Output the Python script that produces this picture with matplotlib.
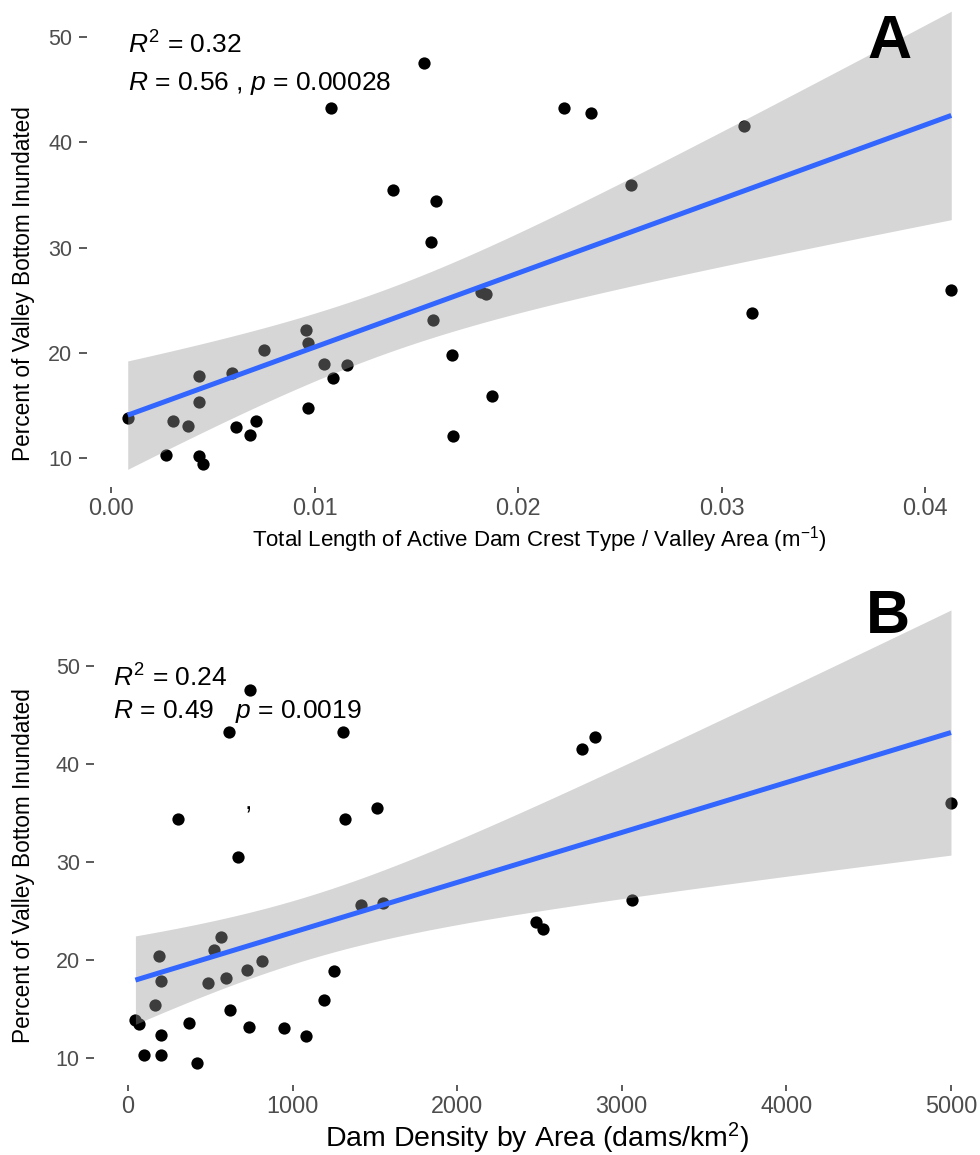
import numpy as np
import matplotlib
matplotlib.use("Agg")
import matplotlib.pyplot as plt

plt.rcParams['font.family'] = ['Liberation Sans', 'DejaVu Sans']
plt.rcParams['mathtext.fontset'] = 'custom'
plt.rcParams['mathtext.rm'] = 'Liberation Sans'
plt.rcParams['mathtext.it'] = 'Liberation Sans:italic'

# dam crest length per valley area (1/m) vs. % of valley bottom inundated
crest_x = [0.00082, 0.0027, 0.00306, 0.0038, 0.00432, 0.00431, 0.00431, 0.00452,
           0.00596, 0.00614, 0.00685, 0.00711, 0.00753, 0.00958, 0.0097, 0.0097,
           0.01048, 0.01089, 0.01158, 0.01581, 0.01677, 0.01679, 0.0182, 0.0184,
           0.0187, 0.03151, 0.04128, 0.0154, 0.0108, 0.01387, 0.01596, 0.01571,
           0.02226, 0.0236, 0.03112, 0.02554]
crest_y = [13.8, 10.3, 13.5, 13.1, 17.8, 15.3, 10.2, 9.4,
           18.1, 13.0, 12.2, 13.5, 20.3, 22.2, 20.9, 14.8,
           18.9, 17.6, 18.8, 23.1, 19.8, 12.1, 25.8, 25.6,
           15.9, 23.8, 26.0, 47.5, 43.3, 35.5, 34.4, 30.5,
           43.3, 42.8, 41.5, 35.9]

# dam density (dams/km2) vs. % of valley bottom inundated
dens_x = [741, 616, 1304, 306, 1318, 1515, 668, 2760, 2839, 5000,
          45, 65, 186, 199, 166, 199, 97, 199, 373, 417,
          488, 524, 563, 593, 620, 723, 814, 735, 950, 1083,
          1191, 1250, 1414, 1551, 2479, 2519, 3062]
dens_y = [47.6, 43.3, 43.3, 34.4, 34.4, 35.5, 30.5, 41.5, 42.8, 36.0,
          13.9, 13.5, 20.4, 17.9, 15.4, 12.3, 10.3, 10.3, 13.6, 9.5,
          17.7, 21.0, 22.3, 18.2, 14.9, 19.0, 19.9, 13.2, 13.1, 12.2,
          15.9, 18.9, 25.6, 25.8, 23.9, 23.2, 26.1]

stats_a = [r'$R^2$ = 0.32', r'$R$ = 0.56 , $p$ = 0.00028']
stats_b = [r'$R^2$ = 0.24', r'$R$ = 0.49   $p$ = 0.0019']

T975 = 2.03  # t quantile, ~35 residual df


def lm_band(x, y, n=80):
    x = np.asarray(x, float)
    y = np.asarray(y, float)
    slope, icpt = np.polyfit(x, y, 1)
    res = y - (slope * x + icpt)
    s = np.sqrt(np.sum(res ** 2) / (len(x) - 2))
    xs = np.linspace(x.min(), x.max(), n)
    fit = slope * xs + icpt
    se = s * np.sqrt(1 / len(x) + (xs - x.mean()) ** 2 / np.sum((x - x.mean()) ** 2))
    return xs, fit, fit - T975 * se, fit + T975 * se


def panel(ax, x, y, xlim, ylim, xticks, xlabels):
    ax.scatter(x, y, s=78, color='black', linewidths=0, zorder=1)
    xs, fit, lo, hi = lm_band(x, y)
    ax.fill_between(xs, lo, hi, color='#999999', alpha=0.4, linewidth=0, zorder=2)
    ax.plot(xs, fit, color='#3366FF', lw=3.6, zorder=3, solid_capstyle='butt')
    ax.set_xlim(*xlim)
    ax.set_ylim(*ylim)
    ax.set_xticks(xticks)
    ax.set_xticklabels(xlabels)
    ax.set_yticks([10, 20, 30, 40, 50])
    for sp in ax.spines.values():
        sp.set_visible(False)
    ax.tick_params(width=1.3, color='#4D4D4D', labelcolor='#4D4D4D')
    ax.tick_params(axis='x', length=4.2, pad=3, labelsize=16.8)
    ax.tick_params(axis='y', length=5.8, pad=4.5, labelsize=15.5)
    ax.set_ylabel('Percent of Valley Bottom Inundated', fontsize=16.3)
    ax.yaxis.label.set_verticalalignment('center')


fig = plt.figure(figsize=(9.8, 11.55), dpi=100)
W, H = 980.0, 1155.0

# top panel
axa = fig.add_axes([86.6 / W, (H - 487) / H, (992.4 - 86.6) / W, (487 + 10.4) / H])
panel(axa, crest_x, crest_y, (-0.0012, 0.0433), (7.26, 54.5),
      [0.0, 0.01, 0.02, 0.03, 0.04], ['0.00', '0.01', '0.02', '0.03', '0.04'])
axa.set_xlabel('Total Length of Active Dam Crest Type / Valley Area (m$^{\\mathregular{-1}}$)',
               fontsize=16)
axa.xaxis.label.set_verticalalignment('baseline')
axa.xaxis.set_label_coords(0.5, -0.1206)
axa.yaxis.set_label_coords(-0.0702, 0.41)
axa.text(0.00084, 48.4, stats_a[0], fontsize=19, ha='left', va='baseline')
axa.text(0.00084, 45.0, stats_a[1], fontsize=19, ha='left', va='baseline')
axa.text(0.03823, 48.0, 'A', fontsize=44, fontweight='bold',
         ha='center', va='baseline')

# bottom panel
axb = fig.add_axes([94.1 / W, (H - 1085.4) / H, (991.8 - 94.1) / W, (1085.4 - 588.6) / H])
panel(axb, dens_x, dens_y, (-206, 5248), (7.2, 57.9),
      [0, 1000, 2000, 3000, 4000, 5000], ['0', '1000', '2000', '3000', '4000', '5000'])
axb.set_xlabel('Dam Density by Area (dams/km$^{\\mathregular{2}}$)', fontsize=20.5)
axb.xaxis.label.set_verticalalignment('baseline')
axb.xaxis.set_label_coords(0.493, -0.124)
axb.yaxis.set_label_coords(-0.0792, 0.4416)
axb.text(-90, 47.9, stats_b[0], fontsize=19, ha='left', va='baseline')
axb.text(-90, 44.7, stats_b[1], fontsize=19, ha='left', va='baseline')
axb.text(729, 35.4, ',', fontsize=19, ha='center', va='baseline')
axb.text(4617, 53.4, 'B', fontsize=44, fontweight='bold',
         ha='center', va='baseline')

fig.savefig('out.png', dpi=100)
